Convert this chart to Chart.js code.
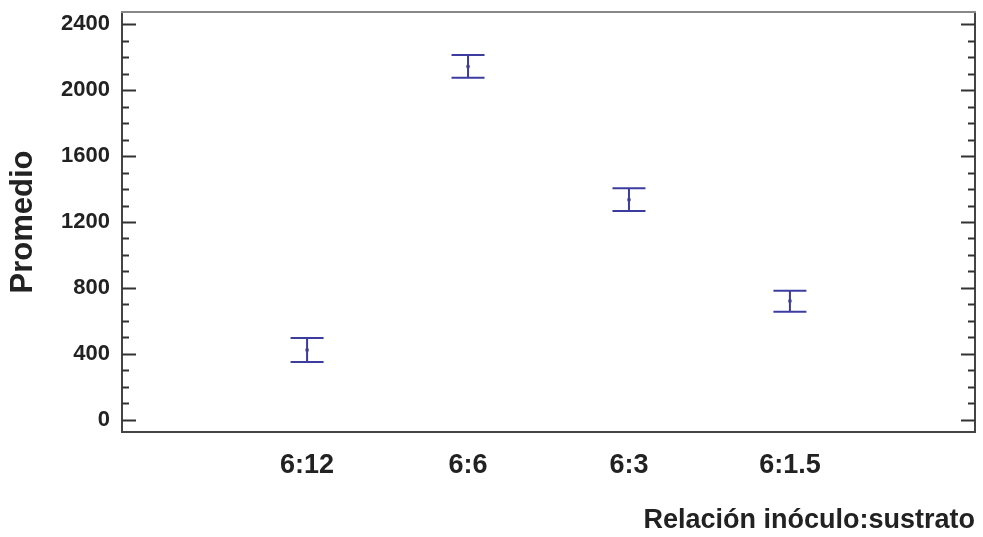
<!DOCTYPE html>
<html lang="es">
<head>
<meta charset="utf-8">
<title>Promedio vs relación inóculo:sustrato</title>
<script src="https://cdn.jsdelivr.net/npm/chart.js@4.4.1/dist/chart.umd.min.js"></script>
<style>
  html,body{margin:0;padding:0;background:#fff;}
  canvas{display:block;}
</style>
</head>
<body>
<canvas id="ch" width="983" height="537"></canvas>
<script>
// ====== datos ======
const cats   = ['6:12', '6:6', '6:3', '6:1.5'];
const means  = [424, 2143, 1335, 721];
const lower  = [352, 2075, 1267, 656];
const upper  = [497, 2212, 1404, 784];
const yTicks = [0, 400, 800, 1200, 1600, 2000, 2400];
const MINOR_STEP = 100;

(function(){
  const BLUE = '#3c3ca0';
  const FONT = "'Liberation Sans', Arial, sans-serif";

  // barras de error: un segmento vertical por categoría, cortado con null
  const barPts = [];
  cats.forEach((c,i)=>{
    barPts.push({x:i+1, y:lower[i]}, {x:i+1, y:upper[i]}, {x:i+1, y:null});
  });
  const meanPts = means.map((m,i)=>({x:i+1, y:m}));

  // marco + marcas interiores (mayores cada 400, menores cada 100)
  const frame = {
    id:'frame',
    afterDraw(c){
      const {ctx, chartArea:a, scales:{y}} = c;
      ctx.save();
      ctx.lineWidth = 2;
      ctx.strokeStyle = '#444';
      ctx.beginPath();
      ctx.moveTo(a.left, a.top); ctx.lineTo(a.left, a.bottom);
      ctx.lineTo(a.right, a.bottom); ctx.lineTo(a.right, a.top);
      ctx.stroke();
      ctx.strokeStyle = '#888';
      ctx.beginPath(); ctx.moveTo(a.left-1, a.top); ctx.lineTo(a.right+1, a.top); ctx.stroke();
      ctx.strokeStyle = '#333';
      const top = yTicks[yTicks.length-1];
      for(let v=yTicks[0]; v<=top; v+=MINOR_STEP){
        const py = Math.round(y.getPixelForValue(v)) + 0.5;
        const len = yTicks.includes(v) ? 14 : 7;
        ctx.beginPath();
        ctx.moveTo(a.left, py);  ctx.lineTo(a.left+len, py);
        ctx.moveTo(a.right, py); ctx.lineTo(a.right-len, py);
        ctx.stroke();
      }
      ctx.restore();
    }
  };

  new Chart(document.getElementById('ch'), {
    type:'scatter',
    data:{
      datasets:[
        { type:'line', data:barPts, borderColor:BLUE, borderWidth:2,
          pointStyle:'line', pointRadius:16.5, pointHoverRadius:16.5,
          pointBorderColor:BLUE, pointBorderWidth:2, spanGaps:false, fill:false, tension:0 },
        { data:meanPts, pointRadius:2, backgroundColor:'#6a6a9a', borderWidth:0 }
      ]
    },
    options:{
      responsive:false, devicePixelRatio:1, animation:false,
      layout:{ autoPadding:false, padding:{ left:0, right:8, top:12, bottom:0 } },
      plugins:{ legend:{ display:false }, tooltip:{ enabled:false } },
      scales:{
        x:{
          type:'linear', min:-0.15, max:5.15,
          grid:{ display:false, drawTicks:false }, border:{ display:false },
          afterBuildTicks:s=>{ s.ticks = cats.map((_,i)=>({value:i+1})); },
          afterFit:s=>{ s.height = 105; s.paddingLeft = 0; s.paddingRight = 0; },
          ticks:{ padding:17, maxRotation:0, autoSkip:false, color:'#222',
                  font:{ family:FONT, size:27, weight:'bold' },
                  callback:v=>cats[v-1] },
          title:{ display:true, text:'Relación inóculo:sustrato', align:'end', color:'#222',
                  font:{ family:FONT, size:27, weight:'bold' }, padding:{ top:0, bottom:0 } }
        },
        y:{
          min:-73, max:2473,
          grid:{ display:false, drawTicks:false }, border:{ display:false },
          afterBuildTicks:s=>{ s.ticks = yTicks.map(v=>({value:v})); },
          afterFit:s=>{ s.width = 122; s.paddingTop = 0; s.paddingBottom = 0; },
          ticks:{ padding:12, color:'#222', font:{ family:FONT, size:22, weight:'bold' },
                  callback:v=>String(v) },
          title:{ display:true, text:'Promedio', color:'#222',
                  font:{ family:FONT, size:31, weight:'bold' }, padding:{ top:5, bottom:0 } }
        }
      }
    },
    plugins:[frame]
  });
})();
</script>
</body>
</html>
